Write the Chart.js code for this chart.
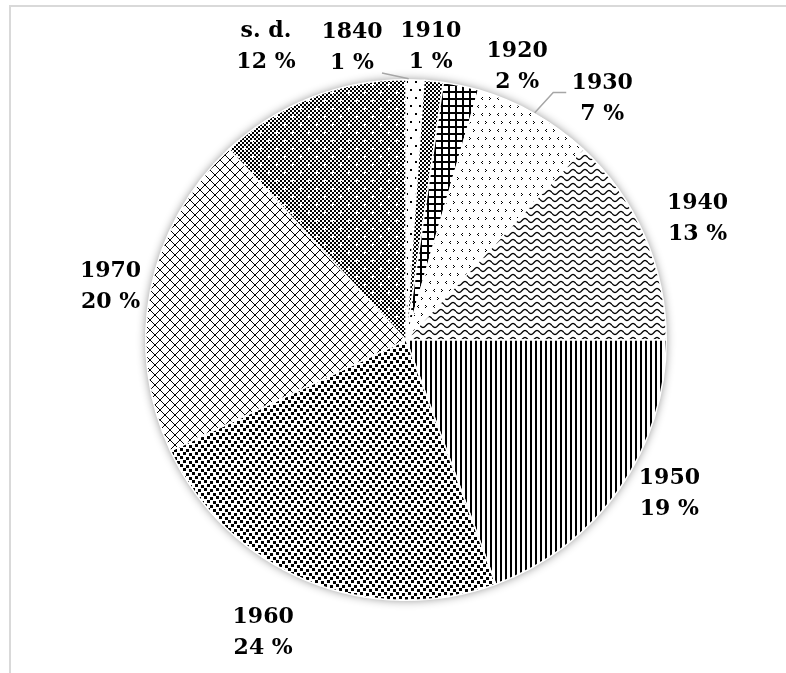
<!DOCTYPE html>
<html>
<head>
<meta charset="utf-8">
<script src="https://cdn.jsdelivr.net/npm/chart.js@4"></script>
<style>
  html, body { margin: 0; padding: 0; background: #fff; }
  #wrap { position: relative; width: 786px; height: 673px; overflow: hidden; }
  #frame { position: absolute; left: 9px; top: 5px; right: -4px; bottom: -4px;
           border-top: 2px solid #d9d9d9; border-left: 2px solid #d9d9d9; }
  #c { position: absolute; left: 0; top: 0; }
</style>
</head>
<body>
<div id="wrap">
  <div id="frame"></div>
  <canvas id="c" width="786" height="673"></canvas>
</div>
<script>
// ── data ────────────────────────────────────────────────────────────────────
const DECADES   = ['1840', '1910', '1920', '1930', '1940', '1950', '1960', '1970', 's. d.'];
const SHARES    = [1.1, 1.2, 2.2, 7.4, 13.1, 19.4, 23.6, 20.1, 11.9];   // slice sizes
const SHOWN_PCT = [1, 1, 2, 7, 13, 19, 24, 20, 12];                     // percentages printed on the chart

const canvas = document.getElementById('c');
const ctx = canvas.getContext('2d');

// ── fill patterns (black on white, like the Excel pattern fills) ─────────────
function pattern(w, h, draw) {
  const t = document.createElement('canvas');
  t.width = w; t.height = h;
  const g = t.getContext('2d');
  g.fillStyle = '#fff';
  g.fillRect(0, 0, w, h);
  g.fillStyle = '#000';
  g.strokeStyle = '#000';
  draw(g, w, h);
  return ctx.createPattern(t, 'repeat');
}

const fills = [
  // 1840 – sparse dots
  pattern(9, 16, g => { g.fillRect(1, 1, 2, 2); g.fillRect(5, 9, 2, 2); }),
  // 1910 – fine checker
  pattern(4, 4, g => { g.fillRect(0, 0, 2, 2); g.fillRect(2, 2, 2, 2); }),
  // 1920 – heavy grid
  pattern(7, 7, g => { g.fillRect(0, 0, 7, 2); g.fillRect(0, 0, 2, 7); }),
  // 1930 – small chevrons
  pattern(16, 16, g => {
    const lt = (x, y) => { g.fillRect(x + 1, y, 1, 1); g.fillRect(x, y + 1, 1, 1); g.fillRect(x + 1, y + 2, 1, 1); };
    const gt = (x, y) => { g.fillRect(x, y, 1, 1); g.fillRect(x + 1, y + 1, 1, 1); g.fillRect(x, y + 2, 1, 1); };
    lt(1, 1); gt(9, 1); gt(5, 9); lt(13, 9);
  }),
  // 1940 – waves
  pattern(12, 7, g => {
    g.lineWidth = 1.3;
    g.beginPath();
    for (let x = 0; x <= 12; x += 0.5) {
      const y = 3.5 + 2 * Math.sin(x / 12 * Math.PI * 2);
      x === 0 ? g.moveTo(x, y) : g.lineTo(x, y);
    }
    g.stroke();
  }),
  // 1950 – vertical lines
  pattern(5, 1, g => { g.fillRect(0, 0, 2, 1); }),
  // 1960 – confetti squares
  pattern(12, 8, g => {
    g.fillRect(0, 0, 3, 3); g.fillRect(6, 1, 3, 3);
    g.fillRect(3, 4, 3, 3); g.fillRect(9, 5, 3, 3);
  }),
  // 1970 – diamond lattice
  pattern(10, 10, g => {
    for (let i = 0; i < 10; i++) { g.fillRect(i, i, 1, 1); g.fillRect(9 - i, i, 1, 1); }
  }),
  // s. d. – dark checker with white crosses
  pattern(16, 16, g => {
    for (let y = 0; y < 16; y += 2)
      for (let x = 0; x < 16; x += 2)
        if (((x + y) / 2) % 2 === 0) g.fillRect(x, y, 2, 2);
    g.fillStyle = '#fff';
    [[4, 4], [12, 12]].forEach(([x, y]) => {
      g.fillRect(x - 2, y, 5, 1); g.fillRect(x, y - 2, 1, 5);
    });
  })
];

// ── soft shadow under the whole pie ─────────────────────────────────────────
const pieShadow = {
  id: 'pieShadow',
  beforeDatasetsDraw(chart) {
    const a = chart.getDatasetMeta(0).data[0];
    if (!a) return;
    const c = chart.ctx;
    c.save();
    c.shadowColor = 'rgba(0,0,0,0.45)';
    c.shadowBlur = 10;
    c.beginPath();
    c.arc(a.x, a.y, a.outerRadius, 0, Math.PI * 2);
    c.fillStyle = '#fff';
    c.fill();
    c.restore();
  }
};

// ── outside labels (two lines: decade / percent) with a couple of leaders ──
// offsets are from the slice's outer mid point to the centre of the text block
const LABEL_OFFSET = [[-63, -33], [-3, -35], [56, -19], [68, -15], [53, -18],
                      [50, 4], [-44, 52], [-40, -4], [-45, -51]];
// leader: where along the slice it ends (0 = start edge, 1 = end edge) and its bend points
const LEADERS = { 0: { at: 0.15, pts: [[30, 26]] }, 3: { at: 0.5, pts: [[-36, -6], [-49, -6]] } };

const pieLabels = {
  id: 'pieLabels',
  afterDatasetsDraw(chart) {
    const c = chart.ctx;
    const arcs = chart.getDatasetMeta(0).data;
    c.save();
    c.font = 'bold 22px "DejaVu Serif", Cambria, serif';
    c.fillStyle = '#000';
    c.textAlign = 'center';
    c.textBaseline = 'middle';
    arcs.forEach((a, i) => {
      const mid = (a.startAngle + a.endAngle) / 2;
      const ox = a.x + Math.cos(mid) * a.outerRadius;
      const oy = a.y + Math.sin(mid) * a.outerRadius;
      const cx = ox + LABEL_OFFSET[i][0];
      const cy = oy + LABEL_OFFSET[i][1];
      c.fillText(DECADES[i], cx, cy - 15);
      c.fillText(SHOWN_PCT[i] + ' %', cx, cy + 16);
      const ld = LEADERS[i];
      if (ld) {
        const ang = a.startAngle + (a.endAngle - a.startAngle) * ld.at;
        c.save();
        c.strokeStyle = '#a6a6a6';
        c.lineWidth = 1.5;
        c.beginPath();
        c.moveTo(a.x + Math.cos(ang) * (a.outerRadius + 1), a.y + Math.sin(ang) * (a.outerRadius + 1));
        ld.pts.slice().reverse().forEach(p => c.lineTo(cx + p[0], cy + p[1]));
        c.stroke();
        c.restore();
      }
    });
    c.restore();
  }
};

new Chart(canvas, {
  type: 'pie',
  data: {
    labels: DECADES,
    datasets: [{
      data: SHARES,
      backgroundColor: fills,
      borderColor: '#fff',
      borderWidth: 1.5
    }]
  },
  options: {
    responsive: false,
    devicePixelRatio: 1,
    animation: false,
    layout: { padding: { left: 145, right: 119, top: 79, bottom: 72 } },
    plugins: { legend: { display: false }, tooltip: { enabled: false } }
  },
  plugins: [pieShadow, pieLabels]
});
</script>
</body>
</html>
